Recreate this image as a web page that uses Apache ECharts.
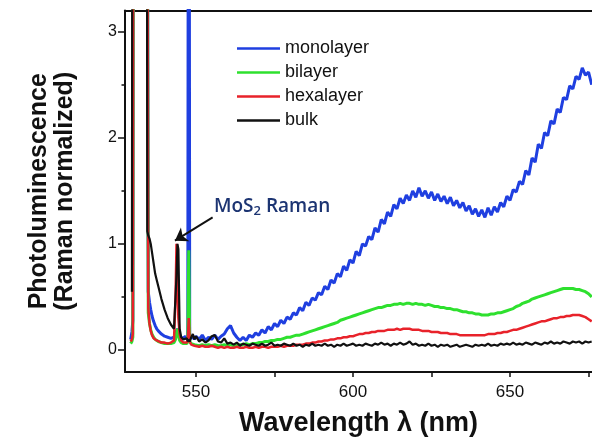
<!DOCTYPE html>
<html>
<head>
<meta charset="utf-8">
<script src="https://cdn.jsdelivr.net/npm/echarts@6.0.0/dist/echarts.min.js"></script>
<style>
  html, body { margin: 0; padding: 0; background: #fff; }
  #chart { width: 592px; height: 444px; }
</style>
</head>
<body>
<div id="chart"></div>
<script>
// wavelength sampling (nm): fine steps around the laser line and Raman peaks, then 1 nm steps
const wavelengthFine = [529.2, 529.6, 529.9, 530.2, 530.5, 534.2, 534.5, 534.8, 535.2, 535.6,
  536, 536.5, 537, 537.5, 538, 539, 540, 541, 542, 543,
  543.5, 543.8, 544.1, 544.4, 544.8, 545.3, 546, 546.6, 547.1, 547.4,
  547.7, 548, 548.5, 549, 549.5]
const wavelength = wavelengthFine.concat(Array.from({ length: 127 }, (_, i) => 550 + i))

// off-scale values (laser line) are entered as 10, they get clipped at the frame
const monolayer = [0.10, 0.17, 0.28, 10, 10, 10, 10, 0.55, 0.45, 0.38,
  0.32, 0.27, 0.23, 0.20, 0.18, 0.15, 0.13, 0.12, 0.11, 0.12,
  0.14, 0.18, 0.20, 0.17, 0.14, 0.12, 0.11, 0.13, 0.10, 0.13,
  10, 0.14, 0.11, 0.13, 0.10,
  // 550 - 565
  0.13, 0.10, 0.14, 0.09, 0.12, 0.10, 0.14, 0.10, 0.13, 0.15, 0.20, 0.23, 0.16, 0.12, 0.09, 0.12,
  0.09, 0.14, 0.12, 0.16, 0.14, 0.19, 0.16, 0.22, 0.19, 0.25, 0.22, 0.28, 0.25, 0.31, 0.29,
  0.35, 0.33, 0.40, 0.37, 0.45, 0.42, 0.49, 0.47, 0.54, 0.52, 0.60, 0.57, 0.66, 0.63, 0.72,
  0.69, 0.79, 0.75, 0.85, 0.82, 0.93, 0.89, 1.00, 0.98, 1.07, 1.04, 1.15, 1.11, 1.23, 1.19,
  1.30, 1.26, 1.37, 1.33, 1.43, 1.38, 1.46, 1.41, 1.50, 1.44, 1.53, 1.45, 1.50, 1.43, 1.49,
  1.41, 1.47, 1.40, 1.45, 1.38, 1.44, 1.36, 1.41, 1.34, 1.39, 1.31, 1.36, 1.28, 1.33, 1.26,
  1.32, 1.25, 1.34, 1.27, 1.35, 1.30, 1.39, 1.35, 1.45, 1.41, 1.51, 1.49, 1.59, 1.56, 1.69,
  1.65, 1.81, 1.77, 1.94, 1.90, 2.05, 2.02, 2.16, 2.13, 2.27, 2.24, 2.38, 2.36, 2.49, 2.46,
  2.58, 2.55, 2.66, 2.59, 2.62, 2.50]

const bilayer = [0.06, 0.08, 0.12, 10, 10, 10, 10, 0.35, 0.25, 0.19,
  0.15, 0.12, 0.10, 0.09, 0.08, 0.07, 0.06, 0.06, 0.06, 0.07,
  0.10, 0.16, 0.20, 0.14, 0.09, 0.07, 0.06, 0.06, 0.06, 0.08,
  0.94, 0.08, 0.06, 0.05, 0.05,
  0.05, 0.04, 0.05, 0.04, 0.05, 0.04, 0.05, 0.04, 0.04, 0.05, 0.04, 0.05, 0.04, 0.05, 0.05, 0.05,
  0.06, 0.05, 0.06, 0.06, 0.07, 0.07, 0.08, 0.08, 0.09, 0.09, 0.10, 0.10, 0.11, 0.12, 0.12,
  0.13, 0.14, 0.14, 0.15, 0.16, 0.17, 0.18, 0.19, 0.20, 0.21, 0.22, 0.23, 0.24, 0.25, 0.26,
  0.28, 0.29, 0.30, 0.31, 0.32, 0.33, 0.34, 0.35, 0.36, 0.37, 0.38, 0.39, 0.40, 0.40, 0.41,
  0.42, 0.42, 0.43, 0.43, 0.44, 0.43, 0.44, 0.44, 0.43, 0.44, 0.43, 0.43, 0.42, 0.43, 0.42,
  0.41, 0.41, 0.40, 0.40, 0.39, 0.39, 0.38, 0.38, 0.37, 0.36, 0.36, 0.35, 0.35, 0.34, 0.34,
  0.33, 0.33, 0.33, 0.34, 0.34, 0.35, 0.35, 0.36, 0.37, 0.38, 0.39, 0.41, 0.42, 0.44, 0.45,
  0.46, 0.48, 0.49, 0.50, 0.51, 0.52, 0.53, 0.54, 0.55, 0.56, 0.57, 0.58, 0.58, 0.58, 0.58,
  0.57, 0.57, 0.56, 0.55, 0.53, 0.50]

const hexalayer = [0.08, 0.10, 0.15, 10, 10, 10, 10, 0.40, 0.25, 0.18,
  0.14, 0.11, 0.10, 0.09, 0.08, 0.07, 0.07, 0.06, 0.07, 0.09,
  0.50, 1.00, 0.60, 0.30, 0.15, 0.09, 0.07, 0.06, 0.07, 0.10,
  0.30, 0.08, 0.05, 0.05, 0.04,
  0.04, 0.03, 0.04, 0.03, 0.03, 0.04, 0.03, 0.02, 0.03, 0.02, 0.03, 0.02, 0.02, 0.03, 0.02, 0.02,
  0.03, 0.02, 0.02, 0.03, 0.02, 0.03, 0.03, 0.02, 0.03, 0.03, 0.03, 0.04, 0.03, 0.04, 0.04,
  0.04, 0.05, 0.05, 0.05, 0.06, 0.06, 0.07, 0.07, 0.08, 0.08, 0.09, 0.09, 0.10, 0.10, 0.11,
  0.11, 0.12, 0.12, 0.13, 0.13, 0.14, 0.15, 0.15, 0.16, 0.16, 0.17, 0.17, 0.18, 0.18, 0.18,
  0.19, 0.19, 0.19, 0.20, 0.19, 0.20, 0.20, 0.20, 0.19, 0.19, 0.19, 0.18, 0.18, 0.18, 0.17,
  0.17, 0.17, 0.16, 0.16, 0.16, 0.15, 0.15, 0.15, 0.14, 0.14, 0.14, 0.14, 0.14, 0.14, 0.14,
  0.14, 0.14, 0.15, 0.15, 0.15, 0.16, 0.16, 0.17, 0.17, 0.18, 0.19, 0.19, 0.20, 0.21, 0.22,
  0.23, 0.24, 0.25, 0.26, 0.27, 0.27, 0.28, 0.29, 0.30, 0.30, 0.31, 0.31, 0.32, 0.32, 0.33,
  0.33, 0.33, 0.32, 0.31, 0.29, 0.27]

const bulk = [null, 0.55, 10, 10, 10, 10, 1.12, 1.08, 1.05, 1.00,
  0.92, 0.82, 0.72, 0.66, 0.60, 0.48, 0.38, 0.30, 0.24, 0.20,
  0.20, 0.70, 1.00, 0.95, 0.20, 0.12, 0.10, 0.09, 0.11, 0.08,
  0.10, 0.08, 0.12, 0.15, 0.10,
  0.13, 0.08, 0.10, 0.07, 0.09, 0.13, 0.14, 0.08, 0.07, 0.11, 0.06, 0.07, 0.05, 0.07, 0.04, 0.06,
  0.05, 0.04, 0.06, 0.05, 0.04, 0.06, 0.04, 0.05, 0.07, 0.04, 0.05, 0.04, 0.06, 0.05, 0.04,
  0.06, 0.04, 0.05, 0.03, 0.05, 0.04, 0.06, 0.04, 0.05, 0.04, 0.06, 0.04, 0.05, 0.03, 0.05,
  0.04, 0.06, 0.04, 0.05, 0.06, 0.04, 0.05, 0.04, 0.06, 0.05, 0.04, 0.06, 0.05, 0.07, 0.05,
  0.06, 0.04, 0.06, 0.05, 0.07, 0.05, 0.06, 0.08, 0.05, 0.06, 0.04, 0.05, 0.04, 0.06, 0.04,
  0.05, 0.03, 0.05, 0.04, 0.05, 0.03, 0.04, 0.05, 0.03, 0.04, 0.05, 0.04, 0.03, 0.05, 0.04,
  0.05, 0.04, 0.06, 0.04, 0.05, 0.04, 0.06, 0.05, 0.06, 0.05, 0.07, 0.05, 0.06, 0.05, 0.07,
  0.06, 0.05, 0.07, 0.06, 0.05, 0.07, 0.06, 0.08, 0.06, 0.07, 0.06, 0.08, 0.07, 0.06, 0.08,
  0.07, 0.08, 0.06, 0.08, 0.07, 0.08]

const seriesNames = ['monolayer', 'bilayer', 'hexalayer', 'bulk']
const seriesValues = [monolayer, bilayer, hexalayer, bulk]
const seriesColors = ['#1f3fe0', '#2ee02e', '#e8222a', '#111111']
const seriesWidths = [3, 3, 2.5, 2.2]

const xTicks = [550, 575, 600, 625, 650, 675]
const xLabels = [550, 600, 650]
const yLabels = [0, 1, 2, 3]
const yMinorTicks = [0.5, 1.5, 2.5]

const FONT = '"Liberation Sans", Arial, sans-serif'
const myChart = echarts.init(document.getElementById('chart'))

const series = seriesNames.map((name, k) => ({
  name: name,
  type: 'line',
  xAxisIndex: 0,
  yAxisIndex: 0,
  symbol: 'none',
  clip: true,
  lineStyle: { color: seriesColors[k], width: seriesWidths[k] },
  itemStyle: { color: seriesColors[k] },
  data: wavelength.map((w, i) => [w, seriesValues[k][i]])
}))

// arrow pointing at the Raman peak
series[3].markLine = {
  silent: true,
  symbol: ['none', 'arrow'],
  symbolSize: 12,
  label: { show: false },
  lineStyle: { color: '#111', width: 2, type: 'solid' },
  data: [[{ coord: [555.3, 1.25] }, { coord: [543.3, 1.03] }]]
}

myChart.setOption({
  animation: false,
  backgroundColor: '#fff',
  grid: { left: 125, right: 0, top: 10.5, bottom: 72 },
  legend: {
    data: seriesNames.map(n => ({ name: n, icon: 'rect' })),
    orient: 'vertical',
    left: 237,
    top: 39.5,
    padding: 0,
    itemWidth: 43,
    itemHeight: 2.5,
    itemGap: 6,
    textStyle: { fontFamily: FONT, fontSize: 18, color: '#111', lineHeight: 14 }
  },
  xAxis: [
    {
      type: 'value',
      position: 'bottom',
      min: 527.4,
      max: 676.1,
      name: 'Wavelength λ (nm)',
      nameLocation: 'middle',
      nameGap: 38,
      nameTextStyle: { fontFamily: FONT, fontSize: 27, fontWeight: 'bold', color: '#111' },
      splitLine: { show: false },
      axisLine: { onZero: false, lineStyle: { color: '#111', width: 2 } },
      axisTick: { customValues: xTicks, length: 5, lineStyle: { color: '#111', width: 1.5 } },
      axisLabel: { customValues: xLabels, margin: 12, fontFamily: FONT, fontSize: 17, color: '#111' }
    },
    {
      type: 'value',
      position: 'top',
      min: 527.4,
      max: 676.1,
      splitLine: { show: false },
      axisLine: { show: true, onZero: false, lineStyle: { color: '#111', width: 2 } },
      axisTick: { show: false },
      axisLabel: { show: false }
    }
  ],
  yAxis: [
    {
      type: 'value',
      min: -0.2075,
      max: 3.2,
      name: 'Photoluminescence\n(Raman normalized)',
      nameLocation: 'middle',
      nameGap: 47,
      nameTextStyle: { fontFamily: FONT, fontSize: 25, fontWeight: 'bold', color: '#111', lineHeight: 26 },
      splitLine: { show: false },
      axisLine: { show: true, onZero: false, lineStyle: { color: '#111', width: 2 } },
      axisTick: { customValues: yLabels, length: 7, lineStyle: { color: '#111', width: 1.5 } },
      axisLabel: { customValues: yLabels, margin: 8, fontFamily: FONT, fontSize: 16, color: '#111' }
    },
    {
      type: 'value',
      position: 'left',
      min: -0.2075,
      max: 3.2,
      splitLine: { show: false },
      axisLine: { show: false, onZero: false },
      axisTick: { show: true, customValues: yMinorTicks, length: 3.5, lineStyle: { color: '#111', width: 1.5 } },
      axisLabel: { show: false }
    }
  ],
  graphic: [
    {
      type: 'text',
      left: 214,
      top: 195,
      style: {
        text: '{a|MoS}{b|2}{a| Raman}',
        rich: {
          a: { fontFamily: '"Open Sans", sans-serif', fontSize: 19, fontWeight: 600, fill: '#1c3472', lineHeight: 22 },
          b: { fontFamily: '"Open Sans", sans-serif', fontSize: 13, fontWeight: 600, fill: '#1c3472', lineHeight: 22, padding: [10, 0, 0, 0] }
        }
      }
    }
  ],
  series: series
})
</script>
</body>
</html>
